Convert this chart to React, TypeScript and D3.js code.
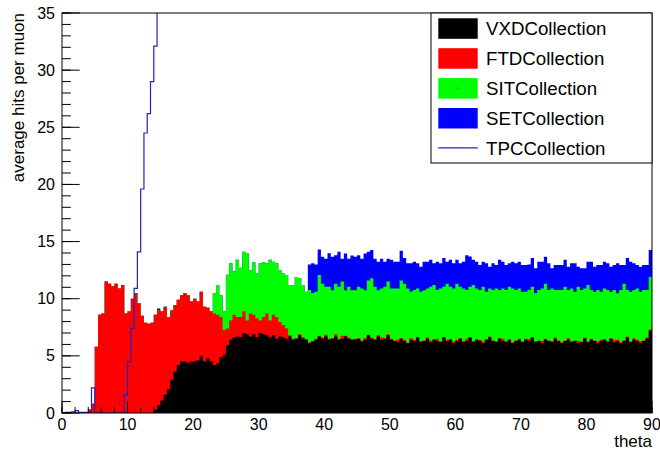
import React from "react";
import * as d3 from "d3";

// Average hits per muon vs. polar angle, 0.5 degree bins from 0 to 90.
const BIN_WIDTH = 0.5;
const THETA_DOMAIN: [number, number] = [0, 90];
const HITS_DOMAIN: [number, number] = [0, 35];

const vxdCollection = [
  0, 0, 0, 0, 0, 0, 0, 0, 0, 0,
  0, 0, 0, 0, 0, 0, 0, 0, 0, 0,
  0, 0, 0, 0, 0, 0, 0, 0, 0.3, 0.7,
  1.1, 1.6, 2.1, 2.9, 3.6, 4.2, 4.5, 4.5, 4.4, 4.5,
  4.5, 4.6, 5.0, 4.5, 4.8, 4.5, 4.2, 4.35, 4.9, 5.1,
  5.9, 6.4, 6.6, 6.7, 6.65, 7.0, 6.9, 6.7, 6.9, 6.65,
  7.0, 6.9, 6.8, 6.6, 6.8, 6.5, 6.7, 6.6, 6.5, 6.7,
  6.4, 6.5, 6.8, 6.5, 6.4, 6.1, 6.25, 6.4, 6.7, 6.5,
  6.7, 6.4, 6.5, 6.7, 6.4, 6.5, 6.7, 6.5, 6.4, 6.4,
  6.5, 6.25, 6.4, 6.8, 6.5, 6.4, 6.7, 6.4, 6.5, 6.8,
  6.4, 6.3, 6.2, 6.5, 6.3, 6.1, 6.4, 6.3, 6.6, 6.2,
  6.3, 6.5, 6.2, 6.4, 6.3, 6.2, 6.6, 6.3, 6.4, 6.1,
  6.3, 6.5, 6.2, 6.3, 6.6, 6.2, 6.4, 6.3, 6.1, 6.4,
  6.6, 6.3, 6.2, 6.5, 6.3, 6.2, 6.4, 6.1, 6.3, 6.4,
  6.2, 6.4, 6.3, 6.6, 6.2, 6.3, 6.1, 6.4, 6.3, 6.2,
  6.5, 6.3, 6.1, 6.3, 6.4, 6.2, 6.3, 6.1, 6.2, 6.5,
  6.2, 6.4, 6.3, 6.1, 6.3, 6.4, 6.2, 6.5, 6.2, 6.3,
  6.1, 6.3, 6.6, 6.2, 6.4, 6.3, 6.1, 6.3, 6.5, 7.2,
];

const ftdCollection = [
  0, 0, 0, 0, 0, 0, 0, 0, 0.3, 0.8,
  5.8, 8.6, 8.7, 11.5, 11.3, 11.1, 11.3, 10.9, 11.2, 8.7,
  8.9, 10.0, 10.5, 9.6, 8.5, 7.9, 7.8, 7.9, 8.3, 8.3,
  7.8, 7.7, 6.3, 6.1, 5.85, 5.7, 5.8, 6.0, 5.9, 5.25,
  5.5, 5.15, 5.6, 4.8, 4.4, 4.4, 4.5, 4.25, 3.5, 2.16,
  1.5, 1.7, 2.0, 1.7, 1.75, 1.9, 1.2, 2.0, 1.7, 1.65,
  1.1, 1.5, 1.9, 1.5, 1.8, 1.9, 1.26, 1.1, 0.9, 0.1,
  0.1, 0.05, 0.1, 0.15, 0.05, 0.1, 0.05, 0.1, 0.05, 0.1,
  0.15, 0.1, 0.05, 0.2, 0.1, 0.25, 0.05, 0.1, 0.05, 0.1,
  0.05, 0.1, 0.15, 0.05, 0.1, 0.05, 0.1, 0.2, 0.05, 0.1,
  0.1, 0.05, 0.2, 0.05, 0.1, 0.05, 0.15, 0.1, 0.05, 0.1,
  0.05, 0.1, 0.15, 0.05, 0.2, 0.1, 0.05, 0.1, 0.05, 0.15,
  0.1, 0.05, 0.1, 0.2, 0.05, 0.1, 0.05, 0.1, 0.15, 0.05,
  0.1, 0.05, 0.1, 0.05, 0.2, 0.1, 0.05, 0.1, 0.05, 0.1,
  0.05, 0.1, 0.15, 0.05, 0.1, 0.05, 0.2, 0.1, 0.05, 0.1,
  0.1, 0.05, 0.1, 0.05, 0.15, 0.1, 0.05, 0.2, 0.05, 0.1,
  0.05, 0.1, 0.05, 0.15, 0.1, 0.05, 0.1, 0.05, 0.2, 0.1,
  0.1, 0.05, 0.1, 0.05, 0.15, 0.1, 0.2, 0.05, 0.1, 0.1,
];

const sitCollection = [
  0, 0, 0, 0, 0, 0, 0, 0, 0, 0,
  0, 0, 0, 0, 0, 0, 0, 0, 0, 0,
  0, 0, 0, 0, 0, 0, 0, 0, 0, 0,
  0, 0, 0, 0, 0, 0, 0, 0, 0, 0,
  0, 0, 0, 0, 0, 0, 1.8, 2.6, 1.9, 1.64,
  4.7, 5.0, 3.8, 5.0, 4.3, 5.2, 5.9, 3.8, 4.6, 3.9,
  5.0, 4.8, 4.4, 5.3, 4.64, 4.7, 4.54, 4.5, 4.67, 4.4,
  4.7, 5.35, 4.9, 4.55, 4.15, 4.56, 4.2, 4.1, 5.32, 4.7,
  4.2, 4.55, 4.2, 4.4, 4.55, 4.75, 4.0, 4.45, 4.3, 4.25,
  4.5, 4.55, 4.2, 4.75, 5.2, 4.6, 3.95, 4.3, 4.5, 4.6,
  4.4, 4.55, 4.5, 5.05, 4.9, 4.75, 4.05, 4.36, 4.25, 4.3,
  4.4, 4.3, 4.7, 4.75, 4.26, 4.6, 4.4, 4.9, 4.6, 4.65,
  4.9, 4.5, 4.6, 4.26, 4.4, 4.9, 4.45, 4.36, 4.8, 4.15,
  4.2, 4.41, 4.6, 4.21, 4.4, 4.46, 4.6, 4.7, 4.41, 4.4,
  4.35, 4.1, 4.31, 4.4, 4.17, 4.41, 4.6, 4.8, 4.41, 4.6,
  4.16, 4.41, 4.56, 4.7, 4.21, 4.6, 4.25, 4.75, 4.51, 4.3,
  4.95, 4.26, 4.25, 4.51, 4.2, 4.45, 4.46, 4.05, 4.36, 4.07,
  4.56, 4.95, 4.06, 4.35, 4.21, 4.5, 4.3, 4.41, 4.16, 4.6,
];

const setCollection = [
  0, 0, 0, 0, 0, 0, 0, 0, 0, 0,
  0, 0, 0, 0, 0, 0, 0, 0, 0, 0,
  0, 0, 0, 0, 0, 0, 0, 0, 0, 0.15,
  0, 0, 0, 0, 0, 0, 0, 0, 0, 0,
  0, 0, 0, 0, 0, 0, 0, 0, 0, 0,
  0, 0, 0, 0, 0, 0, 0, 0, 0, 0,
  0, 0, 0, 0, 0, 0, 0, 0, 0, 0,
  0, 0, 0, 0, 0, 2.24, 2.6, 2.4, 2.23, 2.38,
  2.45, 2.92, 2.92, 2.5, 3.05, 2.0, 3.21, 2.45, 3.04, 2.92,
  2.75, 2.6, 3.21, 2.5, 2.46, 2.45, 2.48, 2.6, 2.19, 2.0,
  2.5, 2.34, 2.34, 2.6, 2.26, 2.2, 2.5, 2.48, 2.2, 2.2,
  2.48, 2.34, 2.35, 1.9, 2.48, 2.2, 2.51, 1.94, 2.35, 2.2,
  2.1, 2.05, 2.34, 3.04, 2.65, 2.2, 2.34, 2.19, 2.19, 2.5,
  1.9, 2.34, 2.05, 2.64, 2.34, 2.19, 2.05, 2.34, 2.34, 2.34,
  2.35, 2.35, 2.24, 2.51, 2.19, 2.48, 2.34, 2.38, 2.34, 1.76,
  2.19, 2.19, 2.19, 2.35, 2.04, 2.2, 2.5, 1.75, 1.9, 1.76,
  2.04, 2.48, 2.2, 2.19, 2.35, 2.34, 2.34, 2.2, 2.19, 2.63,
  2.19, 1.65, 2.8, 2.64, 2.34, 2.05, 2.2, 2.19, 2.19, 2.36,
];

// TPC hits are drawn unstacked; past 14.5 degrees they leave the axis range.
const tpcCollection = [
  0, 0.05, 0.05, 0.1, 0.2, 0.05, 0.05, 0.05, 0.1, 2.2,
  0, 0, 0, 0, 0, 0, 0, 0, 0, 1.6,
  4.5, 7.4, 10.9, 14.1, 19.6, 24.5, 26.2, 29.0, 32.1, 38.0,
];

const stackKeys = ["VXD", "FTD", "SIT", "SET"] as const;
const stackColors: Record<string, string> = {
  VXD: "#000000",
  FTD: "#ff0000",
  SIT: "#00ff00",
  SET: "#0000ff",
};
const tpcColor = "#2222c4";

const legendEntries = [
  { label: "VXDCollection", color: "#000000", kind: "fill" },
  { label: "FTDCollection", color: "#ff0000", kind: "fill" },
  { label: "SITCollection", color: "#00ff00", kind: "fill" },
  { label: "SETCollection", color: "#0000ff", kind: "fill" },
  { label: "TPCCollection", color: tpcColor, kind: "line" },
];

const xTitle = "theta";
const yTitle = "average hits per muon";

const WIDTH = 660;
const HEIGHT = 452;
const FRAME = { left: 62, right: 652, top: 13, bottom: 413 };
const FONT = "'Liberation Sans', Arial, Helvetica, sans-serif";

const stepPoints = (vals: number[]): [number, number][] =>
  vals.flatMap((v, i) => [
    [i * BIN_WIDTH, v] as [number, number],
    [(i + 1) * BIN_WIDTH, v] as [number, number],
  ]);

export default function App() {
  const x = d3.scaleLinear().domain(THETA_DOMAIN).range([FRAME.left, FRAME.right]);
  const y = d3.scaleLinear().domain(HITS_DOMAIN).range([FRAME.bottom, FRAME.top]);

  const rows = vxdCollection.map((_, i) => ({
    VXD: vxdCollection[i],
    FTD: ftdCollection[i],
    SIT: sitCollection[i],
    SET: setCollection[i],
  }));
  const layers = d3.stack<any>().keys(stackKeys as unknown as string[])(rows);

  // Each layer is filled from zero up to its cumulative top, highest drawn first.
  const area = d3
    .area<[number, number]>()
    .x((d) => x(d[0]))
    .y0(y(0))
    .y1((d) => y(d[1]));
  const line = d3
    .line<[number, number]>()
    .x((d) => x(d[0]))
    .y((d) => y(d[1]));

  const xMajor = x.ticks(10);
  const xMinor = x.ticks(45);
  const yMajor = y.ticks(7);
  const yMinor = y.ticks(35);
  const frameW = FRAME.right - FRAME.left;
  const frameH = FRAME.bottom - FRAME.top;
  const xTickLen = 0.03 * frameH;
  const yTickLen = 0.03 * frameW;

  const legend = { x: 431, y: 13, w: 221, h: 150, rowY: 28.3, rowStep: 29.9 };

  return (
    <svg
      width={WIDTH}
      height={HEIGHT}
      style={{ position: "absolute", left: 0, top: 0, background: "#fff" }}
      fontFamily={FONT}
    >
      <defs>
        <clipPath id="frame-clip">
          <rect x={FRAME.left} y={FRAME.top} width={frameW} height={frameH} />
        </clipPath>
      </defs>
      <rect x={0} y={0} width={WIDTH} height={HEIGHT} fill="#fff" />

      <g clipPath="url(#frame-clip)">
        {[...layers].reverse().map((layer) => (
          <path
            key={layer.key}
            d={area(stepPoints(layer.map((d) => d[1]))) ?? ""}
            fill={stackColors[layer.key]}
          />
        ))}
        <path
          d={line(stepPoints(tpcCollection)) ?? ""}
          fill="none"
          stroke={tpcColor}
          strokeWidth={1.2}
        />
      </g>

      {/* frame */}
      <rect
        x={FRAME.left}
        y={FRAME.top}
        width={frameW}
        height={frameH}
        fill="none"
        stroke="#000"
        strokeWidth={1}
      />

      {/* x axis ticks and labels */}
      <g stroke="#000" strokeWidth={1}>
        {xMinor.map((t) => (
          <line key={"xm" + t} x1={x(t)} x2={x(t)} y1={FRAME.bottom} y2={FRAME.bottom - xTickLen / 2} />
        ))}
        {xMajor.map((t) => (
          <line key={"xM" + t} x1={x(t)} x2={x(t)} y1={FRAME.bottom} y2={FRAME.bottom - xTickLen} />
        ))}
        {yMinor.map((t) => (
          <line key={"ym" + t} x1={FRAME.left} x2={FRAME.left + yTickLen / 2} y1={y(t)} y2={y(t)} />
        ))}
        {yMajor.map((t) => (
          <line key={"yM" + t} x1={FRAME.left} x2={FRAME.left + yTickLen} y1={y(t)} y2={y(t)} />
        ))}
      </g>
      <g fontSize={16} fill="#000">
        {xMajor.map((t) => (
          <text key={"xl" + t} x={x(t)} y={430} textAnchor="middle">
            {t}
          </text>
        ))}
        {yMajor.map((t) => (
          <text key={"yl" + t} x={55} y={y(t)} dy="0.35em" textAnchor="end">
            {t}
          </text>
        ))}
      </g>
      <text x={FRAME.right} y={447} textAnchor="end" fontSize={17}>
        {xTitle}
      </text>
      <text
        transform={`translate(23.5,${FRAME.top}) rotate(-90)`}
        textAnchor="end"
        fontSize={17}
      >
        {yTitle}
      </text>

      {/* legend */}
      <rect
        x={legend.x}
        y={legend.y}
        width={legend.w}
        height={legend.h}
        fill="#fff"
        stroke="#000"
        strokeWidth={1}
      />
      {legendEntries.map((e, i) => {
        const cy = legend.y + legend.rowY - 13 + i * legend.rowStep;
        return (
          <g key={e.label}>
            {e.kind === "fill" ? (
              <>
                <rect x={438.3} y={cy - 10} width={39.4} height={20.5} fill={e.color} />
                <rect x={457.5} y={cy - 0.5} width={1} height={1} fill="#000" />
              </>
            ) : (
              <line x1={438.3} x2={477.7} y1={cy} y2={cy} stroke={e.color} strokeWidth={1.2} />
            )}
            <text x={486} y={cy} dy="0.36em" fontSize={18.7} fill="#000">
              {e.label}
            </text>
          </g>
        );
      })}
    </svg>
  );
}
